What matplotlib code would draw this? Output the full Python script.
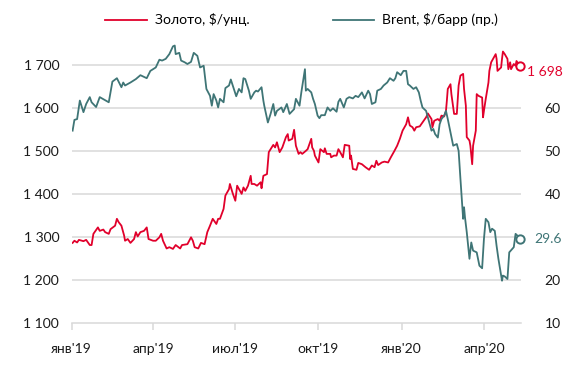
import matplotlib
matplotlib.use("Agg")
import matplotlib.pyplot as plt
import matplotlib.dates as mdates
from matplotlib.lines import Line2D
import pandas as pd

plt.rcParams['font.family'] = ['Lato', 'Noto Sans', 'DejaVu Sans']

gold_dates = [
    "2019-01-02", "2019-01-04", "2019-01-07", "2019-01-09", "2019-01-14", "2019-01-17", "2019-01-21", "2019-01-23",
    "2019-01-25", "2019-01-30", "2019-02-01", "2019-02-05", "2019-02-07", "2019-02-11", "2019-02-13", "2019-02-18",
    "2019-02-20", "2019-02-22", "2019-02-25", "2019-02-28", "2019-03-01", "2019-03-04", "2019-03-07", "2019-03-11",
    "2019-03-13", "2019-03-15", "2019-03-18", "2019-03-22", "2019-03-25", "2019-03-27", "2019-04-01", "2019-04-04",
    "2019-04-08", "2019-04-10", "2019-04-12", "2019-04-16", "2019-04-19", "2019-04-23", "2019-04-26", "2019-05-01",
    "2019-05-03", "2019-05-09", "2019-05-13", "2019-05-15", "2019-05-17", "2019-05-21", "2019-05-24", "2019-05-28",
    "2019-05-31", "2019-06-03", "2019-06-06", "2019-06-10", "2019-06-12", "2019-06-14", "2019-06-18", "2019-06-20",
    "2019-06-24", "2019-06-25", "2019-06-28", "2019-07-01", "2019-07-03", "2019-07-08", "2019-07-10", "2019-07-12",
    "2019-07-15", "2019-07-18", "2019-07-19", "2019-07-22", "2019-07-25", "2019-07-29", "2019-07-30", "2019-08-01",
    "2019-08-05", "2019-08-07", "2019-08-09", "2019-08-12", "2019-08-14", "2019-08-16", "2019-08-19", "2019-08-22",
    "2019-08-26", "2019-08-28", "2019-08-29", "2019-09-02", "2019-09-04", "2019-09-06", "2019-09-09", "2019-09-11",
    "2019-09-13", "2019-09-17", "2019-09-19", "2019-09-23", "2019-09-24", "2019-09-26", "2019-09-27", "2019-10-01",
    "2019-10-03", "2019-10-07", "2019-10-08", "2019-10-10", "2019-10-14", "2019-10-15", "2019-10-18", "2019-10-21",
    "2019-10-23", "2019-10-25", "2019-10-28", "2019-10-30", "2019-11-04", "2019-11-05", "2019-11-06", "2019-11-08",
    "2019-11-12", "2019-11-14", "2019-11-18", "2019-11-22", "2019-11-26", "2019-11-29", "2019-12-02", "2019-12-04",
    "2019-12-06", "2019-12-10", "2019-12-13", "2019-12-17", "2019-12-20", "2019-12-24", "2019-12-27", "2019-12-30",
    "2020-01-02", "2020-01-06", "2020-01-08", "2020-01-10", "2020-01-13", "2020-01-15", "2020-01-17", "2020-01-21",
    "2020-01-24", "2020-01-28", "2020-01-30", "2020-02-03", "2020-02-04", "2020-02-06", "2020-02-10", "2020-02-12",
    "2020-02-14", "2020-02-17", "2020-02-19", "2020-02-20", "2020-02-21", "2020-02-24", "2020-02-25", "2020-02-28",
    "2020-03-02", "2020-03-04", "2020-03-06", "2020-03-09", "2020-03-10", "2020-03-12", "2020-03-13", "2020-03-16",
    "2020-03-17", "2020-03-19", "2020-03-20", "2020-03-23", "2020-03-24", "2020-03-26", "2020-03-30", "2020-03-31",
    "2020-04-01", "2020-04-03", "2020-04-06", "2020-04-07", "2020-04-09", "2020-04-14", "2020-04-15", "2020-04-16",
    "2020-04-20", "2020-04-21", "2020-04-22", "2020-04-24", "2020-04-27", "2020-04-28", "2020-04-30", "2020-05-01",
    "2020-05-04", "2020-05-06", "2020-05-07", "2020-05-11",
]
gold_values = [
    1287, 1292, 1288, 1294, 1291, 1294, 1282, 1282,
    1308, 1323, 1315, 1318, 1312, 1308, 1319, 1327,
    1343, 1335, 1327, 1304, 1292, 1296, 1287, 1296,
    1312, 1302, 1312, 1315, 1323, 1296, 1292, 1292,
    1300, 1308, 1292, 1274, 1277, 1273, 1282, 1274,
    1282, 1284, 1300, 1292, 1277, 1274, 1287, 1284,
    1312, 1327, 1343, 1331, 1343, 1343, 1366, 1397,
    1412, 1424, 1403, 1385, 1420, 1401, 1416, 1408,
    1420, 1443, 1424, 1424, 1420, 1428, 1414, 1443,
    1447, 1498, 1505, 1515, 1509, 1521, 1498, 1509,
    1533, 1540, 1525, 1529, 1550, 1513, 1494, 1498,
    1494, 1501, 1505, 1529, 1509, 1501, 1490, 1474,
    1505, 1498, 1507, 1494, 1494, 1486, 1490, 1490,
    1505, 1498, 1486, 1515, 1513, 1482, 1490, 1459,
    1457, 1473, 1470, 1463, 1457, 1467, 1463, 1478,
    1468, 1474, 1476, 1474, 1486, 1501, 1513, 1529,
    1548, 1563, 1579, 1560, 1556, 1548, 1556, 1558,
    1567, 1579, 1588, 1575, 1556, 1571, 1575, 1571,
    1583, 1581, 1594, 1618, 1645, 1656, 1633, 1587,
    1587, 1653, 1676, 1680, 1645, 1606, 1533, 1525,
    1513, 1470, 1513, 1548, 1633, 1629, 1625, 1579,
    1594, 1622, 1660, 1687, 1707, 1726, 1715, 1687,
    1695, 1715, 1732, 1726, 1715, 1691, 1707, 1691,
    1703, 1699, 1710, 1698,
]

brent_dates = [
    "2019-01-02", "2019-01-04", "2019-01-07", "2019-01-10", "2019-01-14", "2019-01-17", "2019-01-21", "2019-01-23",
    "2019-01-28", "2019-02-01", "2019-02-06", "2019-02-11", "2019-02-15", "2019-02-20", "2019-02-25", "2019-02-27",
    "2019-03-01", "2019-03-07", "2019-03-13", "2019-03-18", "2019-03-25", "2019-03-29", "2019-04-04", "2019-04-08",
    "2019-04-11", "2019-04-15", "2019-04-19", "2019-04-23", "2019-04-25", "2019-04-26", "2019-04-30", "2019-05-02",
    "2019-05-06", "2019-05-09", "2019-05-13", "2019-05-16", "2019-05-20", "2019-05-23", "2019-05-27", "2019-05-30",
    "2019-06-03", "2019-06-05", "2019-06-07", "2019-06-10", "2019-06-12", "2019-06-14", "2019-06-18", "2019-06-20",
    "2019-06-24", "2019-06-26", "2019-06-28", "2019-07-02", "2019-07-05", "2019-07-08", "2019-07-10", "2019-07-12",
    "2019-07-16", "2019-07-18", "2019-07-22", "2019-07-24", "2019-07-26", "2019-07-30", "2019-08-01", "2019-08-02",
    "2019-08-06", "2019-08-09", "2019-08-12", "2019-08-14", "2019-08-16", "2019-08-21", "2019-08-23", "2019-08-27",
    "2019-08-30", "2019-09-04", "2019-09-06", "2019-09-10", "2019-09-12", "2019-09-16", "2019-09-17", "2019-09-19",
    "2019-09-23", "2019-09-25", "2019-09-27", "2019-09-30", "2019-10-02", "2019-10-04", "2019-10-08", "2019-10-11",
    "2019-10-14", "2019-10-17", "2019-10-21", "2019-10-23", "2019-10-25", "2019-10-29", "2019-11-01", "2019-11-04",
    "2019-11-08", "2019-11-11", "2019-11-14", "2019-11-18", "2019-11-21", "2019-11-25", "2019-11-27", "2019-11-29",
    "2019-12-03", "2019-12-05", "2019-12-09", "2019-12-12", "2019-12-16", "2019-12-19", "2019-12-23", "2019-12-25",
    "2019-12-27", "2019-12-31", "2020-01-03", "2020-01-06", "2020-01-08", "2020-01-10", "2020-01-14", "2020-01-17",
    "2020-01-20", "2020-01-22", "2020-01-24", "2020-01-28", "2020-01-31", "2020-02-03", "2020-02-05", "2020-02-07",
    "2020-02-10", "2020-02-12", "2020-02-14", "2020-02-17", "2020-02-19", "2020-02-21", "2020-02-24", "2020-02-27",
    "2020-03-02", "2020-03-04", "2020-03-06", "2020-03-09", "2020-03-10", "2020-03-11", "2020-03-13", "2020-03-16",
    "2020-03-18", "2020-03-20", "2020-03-24", "2020-03-27", "2020-03-30", "2020-04-01", "2020-04-03", "2020-04-06",
    "2020-04-08", "2020-04-10", "2020-04-13", "2020-04-15", "2020-04-17", "2020-04-21", "2020-04-22", "2020-04-24",
    "2020-04-27", "2020-04-29", "2020-05-04", "2020-05-06", "2020-05-08", "2020-05-11",
]
brent_values = [
    54.8, 57.3, 57.5, 61.8, 59.1, 61.0, 62.6, 61.4,
    60.3, 62.6, 62.0, 61.4, 66.2, 67.0, 64.9, 66.0,
    65.3, 66.0, 66.8, 67.7, 67.0, 68.7, 69.5, 71.3,
    71.1, 71.5, 72.6, 74.4, 74.6, 72.6, 72.9, 71.1,
    70.7, 70.3, 70.8, 72.9, 72.2, 69.5, 69.9, 64.5,
    62.9, 60.6, 63.3, 61.8, 60.2, 62.2, 61.4, 64.7,
    65.3, 66.7, 65.4, 62.8, 64.5, 63.7, 67.0, 66.8,
    64.1, 62.2, 63.7, 64.1, 63.9, 64.9, 61.8, 60.6,
    56.7, 58.7, 61.0, 58.3, 59.4, 60.2, 59.1, 61.0,
    58.7, 59.8, 62.2, 60.6, 63.7, 69.1, 64.1, 64.5,
    63.7, 62.2, 61.0, 58.3, 57.7, 58.4, 58.4, 60.2,
    59.4, 60.0, 59.2, 61.5, 62.2, 60.2, 62.2, 62.6,
    62.3, 62.9, 62.6, 63.7, 62.3, 64.1, 63.3, 61.0,
    61.4, 64.1, 64.5, 65.3, 66.0, 67.0, 66.4, 67.0,
    68.4, 67.7, 68.7, 68.7, 65.6, 65.3, 64.5, 64.9,
    63.7, 61.8, 60.2, 59.4, 57.1, 54.8, 55.2, 54.0,
    53.2, 56.3, 57.5, 58.3, 59.4, 57.5, 54.4, 51.3,
    51.7, 50.1, 43.6, 34.3, 37.0, 34.7, 31.2, 25.0,
    28.8, 26.9, 26.5, 23.4, 22.8, 29.6, 34.3, 33.5,
    31.2, 32.0, 31.5, 28.0, 25.0, 19.9, 21.1, 20.9,
    20.3, 26.5, 27.7, 30.8, 30.4, 29.6,
]

left_ticks = [1100, 1200, 1300, 1400, 1500, 1600, 1700]
right_ticks = [10, 20, 40, 50, 60]
x_ticks = ["2019-01-01", "2019-04-01", "2019-07-01", "2019-10-01", "2020-01-01", "2020-04-01"]
x_labels = ["янв'19", "апр'19", "июл'19", "окт'19", "янв'20", "апр'20"]
gold_label = "Золото, $/унц."
brent_label = "Brent, $/барр (пр.)"

RED = "#E1002B"
TEAL = "#3F7576"
GRID = "#D9D9D9"
TXT = "#1A1A1A"

g_dt = pd.to_datetime(gold_dates)
b_dt = pd.to_datetime(brent_dates)

fig = plt.figure(figsize=(5.87, 3.65), dpi=100)
ax = fig.add_axes([71.7 / 587, 1 - 323.3 / 365, (521 - 71.7) / 587, (323.3 - 43.8) / 365])
ax2 = ax.twinx()

ax.set_ylim(1100, 1750)
ax2.set_ylim(10, 75)
ax.set_xlim(pd.Timestamp("2019-01-01"), pd.Timestamp("2020-05-12"))

for t in left_ticks[1:]:
    ax.axhline(t, color=GRID, lw=1.1, zorder=0)

ax.plot(g_dt, gold_values, color=RED, lw=1.3, zorder=3, solid_joinstyle='round')
ax2.plot(b_dt, brent_values, color=TEAL, lw=1.3, zorder=3, solid_joinstyle='round')

ax.plot([g_dt[-1]], [gold_values[-1]], 'o', ms=6, mfc='white', mec=RED, mew=1.4, zorder=5, clip_on=False)
ax2.plot([b_dt[-1]], [brent_values[-1]], 'o', ms=6, mfc='white', mec=TEAL, mew=1.4, zorder=5, clip_on=False)

ax.annotate(f"{gold_values[-1]:,.0f}".replace(",", " "), (g_dt[-1], gold_values[-1]),
            xytext=(5, -4), textcoords='offset points', color=RED, fontsize=10, va='center', ha='left',
            annotation_clip=False)
ax2.annotate(f"{brent_values[-1]:.1f}", (b_dt[-1], brent_values[-1]),
             xytext=(10, 0), textcoords='offset points', color=TEAL, fontsize=10, va='center', ha='left',
             annotation_clip=False)

ax.set_yticks(left_ticks)
ax.set_yticklabels([f"{t:,}".replace(",", " ") for t in left_ticks])
ax2.set_yticks(right_ticks)
ax2.set_yticklabels([str(t) for t in right_ticks])

ax.set_xticks(pd.to_datetime(x_ticks))
ax.set_xticklabels(x_labels)

for a in (ax, ax2):
    for s in a.spines.values():
        s.set_visible(False)
ax.spines['bottom'].set_visible(True)
ax.spines['bottom'].set_color(GRID)
ax.spines['bottom'].set_linewidth(1.1)

ax.tick_params(axis='x', length=5, width=1.1, color=GRID, pad=9, labelsize=10, labelcolor=TXT)
ax.tick_params(axis='y', length=0, pad=9, labelsize=10, labelcolor=TXT)
ax2.tick_params(axis='y', length=0, pad=17, labelsize=10, labelcolor=TXT)

handles = [Line2D([0], [0], color=RED, lw=1.3), Line2D([0], [0], color=TEAL, lw=1.3)]
fig.legend(handles, [gold_label, brent_label], loc='center', bbox_to_anchor=(0.5136, 1 - 20 / 365),
           ncol=2, frameon=False, fontsize=10, handlelength=3.0, handletextpad=0.55, columnspacing=6.0)

fig.savefig("out.png", dpi=100)
